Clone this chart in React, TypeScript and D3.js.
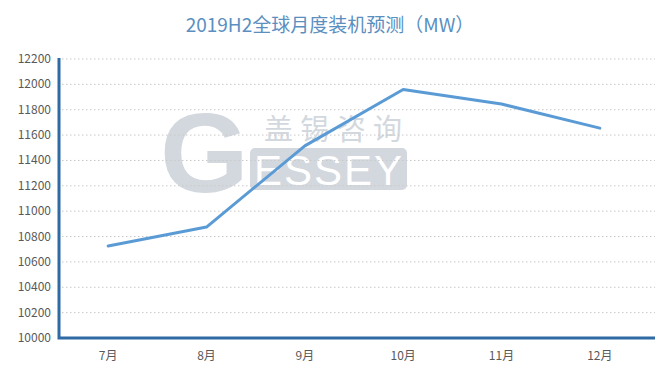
import React, { useEffect, useRef } from "react";
import * as d3 from "d3";

const months = ["7月", "8月", "9月", "10月", "11月", "12月"];
const installs = [10725, 10875, 11515, 11960, 11845, 11655];
const yTicks = [10000, 10200, 10400, 10600, 10800, 11000, 11200, 11400, 11600, 11800, 12000, 12200];

const W = 668;
const H = 369;

export default function App() {
  const ref = useRef<SVGSVGElement>(null);

  useEffect(() => {
    const svg = d3.select(ref.current);
    svg.selectAll("*").remove();

    const left = 59, right = 649, top = 59, bottom = 338;
    const x = d3.scaleBand().domain(months).range([left, right]);
    const y = d3.scaleLinear().domain([10000, 12200]).range([bottom, top]);
    const font = "'Noto Sans CJK SC', 'Open Sans', sans-serif";

    svg.append("rect").attr("width", W).attr("height", H).attr("fill", "#fff");

    // title
    svg.append("text")
      .attr("x", 330).attr("y", 32)
      .attr("text-anchor", "middle")
      .style("font-family", font)
      .style("font-size", "19px")
      .attr("fill", "#5a8fbf")
      .text("2019H2全球月度装机预测（MW）");

    // watermark
    const wm = svg.append("g");
    wm.append("text")
      .attr("x", 160).attr("y", 192)
      .style("font-family", "'Liberation Sans', Arial, sans-serif")
      .style("font-weight", "bold")
      .style("font-size", "114px")
      .attr("fill", "#d3d8de")
      .text("G");
    wm.append("rect")
      .attr("x", 250).attr("y", 148).attr("width", 157).attr("height", 42).attr("rx", 5)
      .attr("fill", "#d3d8de");
    wm.append("text")
      .attr("x", 254).attr("y", 185)
      .style("font-family", "'Liberation Sans', Arial, sans-serif")
      .style("font-size", "42px")
      .attr("fill", "#fff")
      .attr("textLength", 148)
      .text("ESSEY");
    wm.append("text")
      .attr("x", 264).attr("y", 140)
      .style("font-family", font)
      .style("font-size", "29px")
      .attr("fill", "#d3d8de")
      .attr("textLength", 138)
      .text("盖锡咨询");

    // grid
    svg.append("g")
      .selectAll("line")
      .data(yTicks.slice(1))
      .join("line")
      .attr("x1", left + 3).attr("x2", 655)
      .attr("y1", d => y(d)).attr("y2", d => y(d))
      .attr("stroke", "#c8c8c8")
      .attr("stroke-width", 1)
      .attr("stroke-dasharray", "1.5,2.5");

    // y labels
    svg.append("g")
      .selectAll("text")
      .data(yTicks)
      .join("text")
      .attr("x", 51).attr("y", d => y(d) + 4)
      .attr("text-anchor", "end")
      .style("font-family", font)
      .style("font-size", "12px")
      .attr("fill", "#595959")
      .text(d => d);

    // x labels
    svg.append("g")
      .selectAll("text")
      .data(months)
      .join("text")
      .attr("x", d => x(d)! + x.bandwidth() / 2).attr("y", 360)
      .attr("text-anchor", "middle")
      .style("font-family", font)
      .style("font-size", "12px")
      .attr("fill", "#595959")
      .text(d => d);

    // axes
    svg.append("path")
      .attr("d", `M${left},${top - 1}V${bottom}H655`)
      .attr("fill", "none")
      .attr("stroke", "#2e6aa3")
      .attr("stroke-width", 3);

    // line
    const line = d3.line<number>()
      .x((_, i) => x(months[i])! + x.bandwidth() / 2)
      .y(d => y(d));
    svg.append("path")
      .datum(installs)
      .attr("d", line)
      .attr("fill", "none")
      .attr("stroke", "#5b9bd5")
      .attr("stroke-width", 3)
      .attr("stroke-linejoin", "round")
      .attr("stroke-linecap", "round");
  }, []);

  return <svg ref={ref} width={W} height={H} style={{ position: "absolute", left: 0, top: 0 }} />;
}
